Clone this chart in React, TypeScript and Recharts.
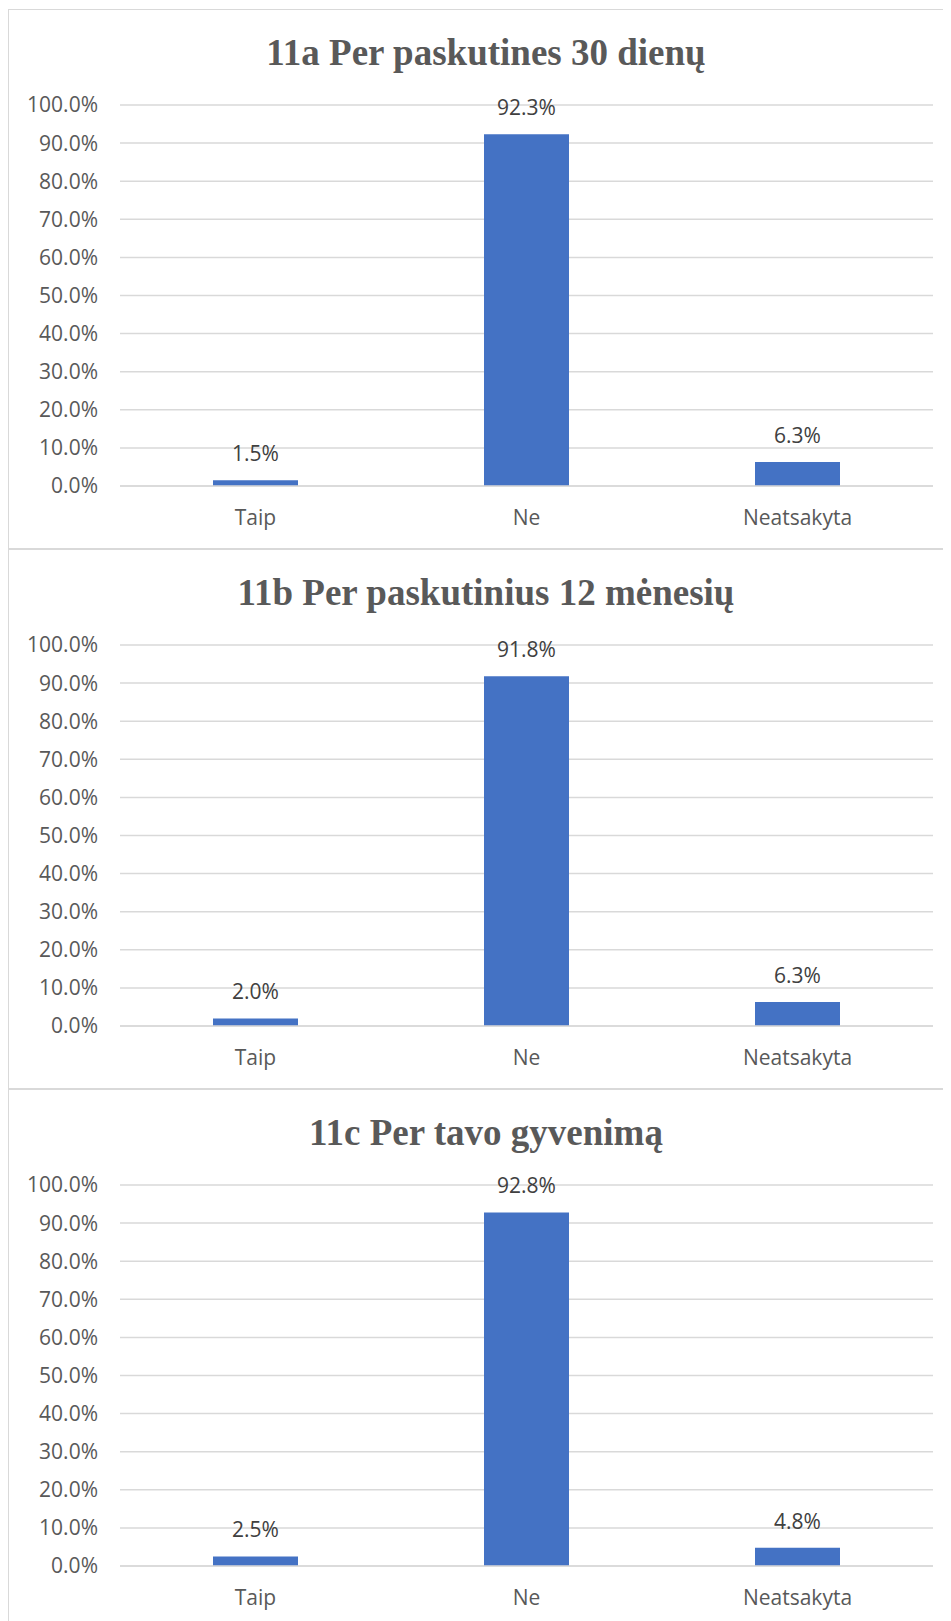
import { BarChart, Bar, XAxis, YAxis, CartesianGrid, LabelList } from "recharts";

const categories = ["Taip", "Ne", "Neatsakyta"];
const titles = [
  "11a Per paskutines 30 dienų",
  "11b Per paskutinius 12 mėnesių",
  "11c Per tavo gyvenimą",
];
const values30Days = [1.5, 92.3, 6.3];
const values12Months = [2.0, 91.8, 6.3];
const valuesLifetime = [2.5, 92.8, 4.8];
const yTicks = [0, 10, 20, 30, 40, 50, 60, 70, 80, 90, 100];

const seriesList = [values30Days, values12Months, valuesLifetime];

const BAR_COLOR = "#4472C4";
const TEXT_COLOR = "#595959";
const GRID_COLOR = "#d9d9d9";
const FONT = "'Open Sans', sans-serif";

const PANEL_W = 956;
const PANEL_H = 540;

const tickStyle = { fill: TEXT_COLOR, fontSize: 21, fontFamily: FONT };

const pct = (v: number) => `${v.toFixed(1)}%`;

function Panel({ title, values }: { title: string; values: number[] }) {
  const data = categories.map((c, i) => ({ label: c, value: values[i] }));
  return (
    <div
      style={{
        position: "relative",
        width: PANEL_W,
        height: PANEL_H,
        boxSizing: "border-box",
        border: `1px solid ${GRID_COLOR}`,
        background: "#fff",
      }}
    >
      <div
        style={{
          position: "absolute",
          top: 21,
          left: 0,
          width: "100%",
          textAlign: "center",
          fontFamily: "'Liberation Serif', 'Times New Roman', serif",
          fontWeight: "bold",
          fontSize: 37,
          color: TEXT_COLOR,
          whiteSpace: "nowrap",
        }}
      >
        {title}
      </div>
      <BarChart
        width={PANEL_W - 2}
        height={PANEL_H - 2}
        data={data}
        margin={{ top: 95, right: 30, bottom: 32, left: 0 }}
        style={{ fontFamily: FONT }}
      >
        <CartesianGrid vertical={false} stroke={GRID_COLOR} strokeWidth={1.5} />
        <XAxis
          dataKey="label"
          tick={tickStyle}
          tickLine={false}
          tickSize={0}
          tickMargin={24}
          height={30}
          axisLine={{ stroke: GRID_COLOR, strokeWidth: 1.5 }}
        />
        <YAxis
          domain={[0, 100]}
          ticks={yTicks}
          tickFormatter={pct}
          tick={tickStyle}
          tickLine={false}
          axisLine={false}
          tickSize={0}
          tickMargin={22}
          width={111}
          interval={0}
        />
        <Bar dataKey="value" fill={BAR_COLOR} barSize={85} isAnimationActive={false}>
          <LabelList
            dataKey="value"
            position="top"
            offset={19}
            formatter={(v: any) => pct(Number(v))}
            style={{ fill: "#404040", fontSize: 21, fontFamily: FONT }}
          />
        </Bar>
      </BarChart>
    </div>
  );
}

export default function App() {
  return (
    <div style={{ width: 943, height: 1613, overflow: "hidden", position: "relative" }}>
      <div style={{ paddingTop: 1 }}>
        {titles.map((t, i) => (
          <Panel key={t} title={t} values={seriesList[i]} />
        ))}
      </div>
    </div>
  );
}
